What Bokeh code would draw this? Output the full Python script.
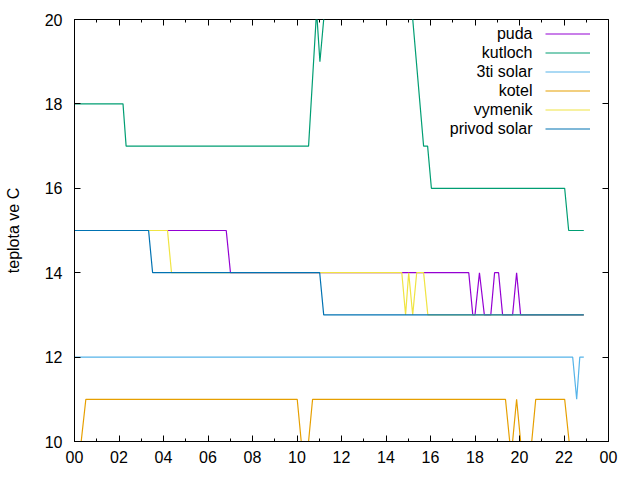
from bokeh.plotting import figure
from bokeh.models import Range1d, FixedTicker, LinearAxis, Legend, LegendItem, Label
from bokeh.embed import file_html
from bokeh.resources import INLINE

# ---- data (hours of day, temperature in C) ----
series_names = ["puda", "kutloch", "3ti solar", "kotel", "vymenik", "privod solar"]
series_colors = ["#9400d3", "#009e73", "#56b4e9", "#e69f00", "#f0e442", "#0072b2"]

puda_t = [0, 6.82, 7.01, 17.72, 17.90, 18.00, 18.20, 18.42, 18.71, 18.88, 19.06, 19.24, 19.69, 19.87, 20.05, 22.89]
puda_v = [15, 15, 14, 14, 13, 13, 14, 13, 13, 14, 14, 13, 13, 14, 13, 13]

kutloch_t = [0, 2.18, 2.32, 10.52, 10.88, 11.03, 11.37, 15.04, 15.69, 15.87, 16.04, 22.03, 22.21, 22.89]
kutloch_v = [18, 18, 17, 17, 20.2, 19, 21, 21, 17, 17, 16, 16, 15, 15]

solar3_t = [0, 22.39, 22.57, 22.71, 22.89]
solar3_v = [12, 12, 11, 12, 12]

kotel_t = [0, 0.30, 0.51, 10.01, 10.19, 10.52, 10.70, 19.37, 19.56, 19.69, 19.87, 20.05, 20.55, 20.73, 22.03, 22.23, 22.89]
kotel_v = [10, 10, 11, 11, 10, 10, 11, 11, 10, 10, 11, 10, 10, 11, 11, 10, 10]

vymenik_t = [0, 4.18, 4.36, 14.71, 14.88, 15.02, 15.20, 15.38, 15.69, 15.88, 22.89]
vymenik_v = [15, 15, 14, 14, 13, 14, 13, 14, 14, 13, 13]

privod_t = [0, 3.33, 3.51, 11.02, 11.20, 22.89]
privod_v = [15, 15, 14, 14, 13, 13]

x_ticks = list(range(0, 25, 2))
x_minor = list(range(1, 24, 2))
x_tick_labels = ["00", "02", "04", "06", "08", "10", "12", "14", "16", "18", "20", "22", "00"]
y_ticks = [10, 12, 14, 16, 18, 20]

FONT = "Liberation Sans"
FS = "16px"

p = figure(width=640, height=480, x_range=Range1d(0, 24), y_range=Range1d(10, 20),
           output_backend="svg", toolbar_location=None,
           min_border_left=74, min_border_right=32, min_border_top=19, min_border_bottom=39)
p.background_fill_color = "white"
p.border_fill_color = "white"
p.outline_line_color = "black"
p.outline_line_width = 1
p.xgrid.visible = False
p.ygrid.visible = False

def style_axis(ax):
    ax.axis_line_color = "black"
    ax.major_tick_line_color = "black"
    ax.minor_tick_line_color = "black"
    ax.major_tick_in = 6
    ax.major_tick_out = 0
    ax.minor_tick_in = 3
    ax.minor_tick_out = 0
    ax.major_label_text_font = FONT
    ax.major_label_text_color = "black"
    ax.major_label_text_font_size = FS

p.xaxis.ticker = FixedTicker(ticks=x_ticks, minor_ticks=x_minor)
p.xaxis.major_label_overrides = {t: l for t, l in zip(x_ticks, x_tick_labels)}
style_axis(p.xaxis[0])
p.xaxis.major_label_standoff = 9

p.yaxis.ticker = FixedTicker(ticks=y_ticks, minor_ticks=[])
style_axis(p.yaxis[0])
p.yaxis.major_label_standoff = 12
p.yaxis.axis_label = "teplota ve C"
p.yaxis.axis_label_text_font = FONT
p.yaxis.axis_label_text_font_size = FS
p.yaxis.axis_label_text_font_style = "normal"
p.yaxis.axis_label_text_color = "black"
p.yaxis.axis_label_standoff = 20

# mirror ticks (label-free: only "minor" ticks are used)
def mirror_axis(positions, length):
    ax = LinearAxis(ticker=FixedTicker(ticks=[], minor_ticks=positions))
    ax.axis_line_color = None
    ax.major_tick_line_color = None
    ax.minor_tick_line_color = "black"
    ax.minor_tick_in = length
    ax.minor_tick_out = 0
    ax.major_tick_in = 0
    ax.major_tick_out = 0
    ax.major_label_standoff = 0
    return ax

p.add_layout(mirror_axis(x_ticks, 6), "above")
p.add_layout(mirror_axis(x_minor, 3), "above")
p.add_layout(mirror_axis(y_ticks, 6), "right")

data = [(puda_t, puda_v), (kutloch_t, kutloch_v), (solar3_t, solar3_v),
        (kotel_t, kotel_v), (vymenik_t, vymenik_v), (privod_t, privod_v)]

items = []
for (t, v), name, col in zip(data, series_names, series_colors):
    r = p.line(t, v, line_color=col, line_width=1.2)
    items.append(LegendItem(label=" ", renderers=[r]))

legend = Legend(items=items, location=(470.7, 303.2), glyph_width=45, glyph_height=19,
                label_height=19, label_width=0, label_standoff=0, padding=0, margin=0,
                spacing=0, border_line_color=None, background_fill_alpha=0,
                label_text_font_size="1px")
p.add_layout(legend)

for i, name in enumerate(series_names):
    p.add_layout(Label(x=458, y=407.7 - 19 * i, x_units="screen", y_units="screen",
                       text=name, text_align="right", text_baseline="middle",
                       text_font=FONT, text_font_size=FS, text_color="black"))

open("out.html", "w").write(file_html(p, INLINE))
